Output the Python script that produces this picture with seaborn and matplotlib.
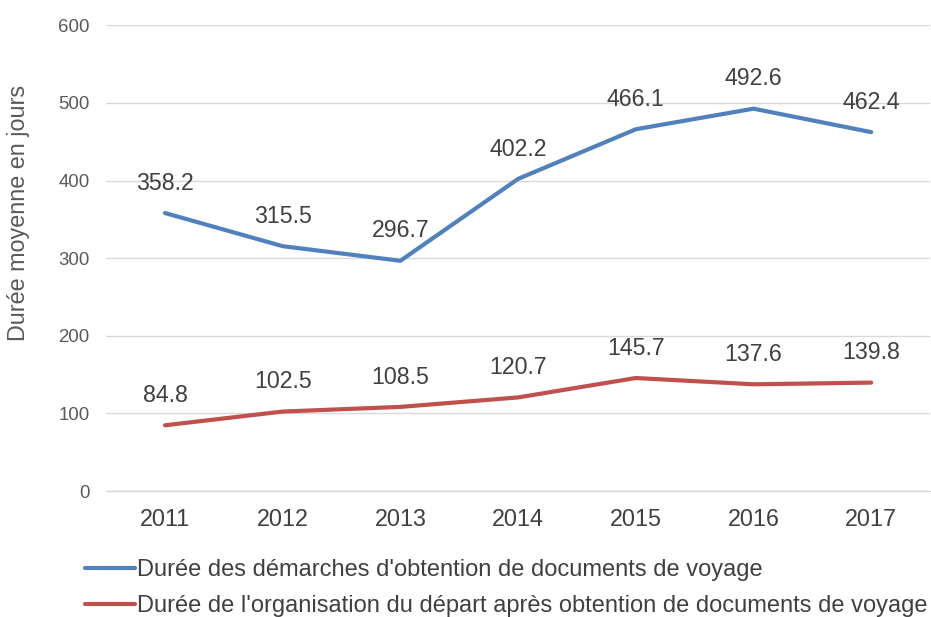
import pandas as pd
import seaborn as sns
import matplotlib.pyplot as plt

# Données
annees = ["2011", "2012", "2013", "2014", "2015", "2016", "2017"]
demarches = [358.2, 315.5, 296.7, 402.2, 466.1, 492.6, 462.4]
organisation = [84.8, 102.5, 108.5, 120.7, 145.7, 137.6, 139.8]
serie_1 = "Durée des démarches d'obtention de documents de voyage"
serie_2 = "Durée de l'organisation du départ après obtention de documents de voyage"

df = pd.DataFrame({
    "Année": annees * 2,
    "Durée": demarches + organisation,
    "Série": [serie_1] * len(annees) + [serie_2] * len(annees),
})

sns.set_style("white")
plt.rcParams["font.family"] = ["Liberation Sans", "DejaVu Sans"]

fig = plt.figure(figsize=(9.31, 6.17), dpi=100)
ax = fig.add_axes([0.114, 0.204, 0.885, 0.755])

couleurs = {serie_1: "#4F81BD", serie_2: "#C0504D"}
sns.lineplot(data=df, x="Année", y="Durée", hue="Série", palette=couleurs,
             linewidth=3, ax=ax, legend=True, sort=False)

# Étiquettes de valeurs
for serie, valeurs in [(serie_1, demarches), (serie_2, organisation)]:
    for i, v in enumerate(valeurs):
        ax.annotate(f"{v:.1f}", (i, v), xytext=(0, 21.5), textcoords="offset points",
                    ha="center", va="center", fontsize=16.7, color="#404040")

ax.set_ylim(0, 600)
ax.set_xlim(-0.5, len(annees) - 0.5)
ax.set_yticks(range(0, 601, 100))
ax.grid(axis="y", color="#D9D9D9", linewidth=1)
ax.axhline(0, color="#D9D9D9", linewidth=1, clip_on=False, zorder=0)
ax.set_axisbelow(True)
for s in ax.spines.values():
    s.set_visible(False)
ax.tick_params(axis="y", length=0, labelsize=13.4, labelcolor="#595959", pad=12)
ax.tick_params(axis="x", length=0, labelsize=16.8, labelcolor="#404040", pad=12)
ax.set_xlabel("")
ax.set_ylabel("Durée moyenne en jours", fontsize=16.8, color="#595959")
ax.yaxis.set_label_coords(-0.093, 0.597)

# Légende en bas
handles, labels = ax.get_legend_handles_labels()
ax.get_legend().remove()
fig.legend(handles, labels, loc="upper left", bbox_to_anchor=(0.0913, 0.094),
           frameon=False, fontsize=17, labelcolor="#404040",
           handlelength=2.1, handletextpad=0.1, labelspacing=0.6,
           borderpad=0, borderaxespad=0)

plt.savefig("out.png", dpi=100)
